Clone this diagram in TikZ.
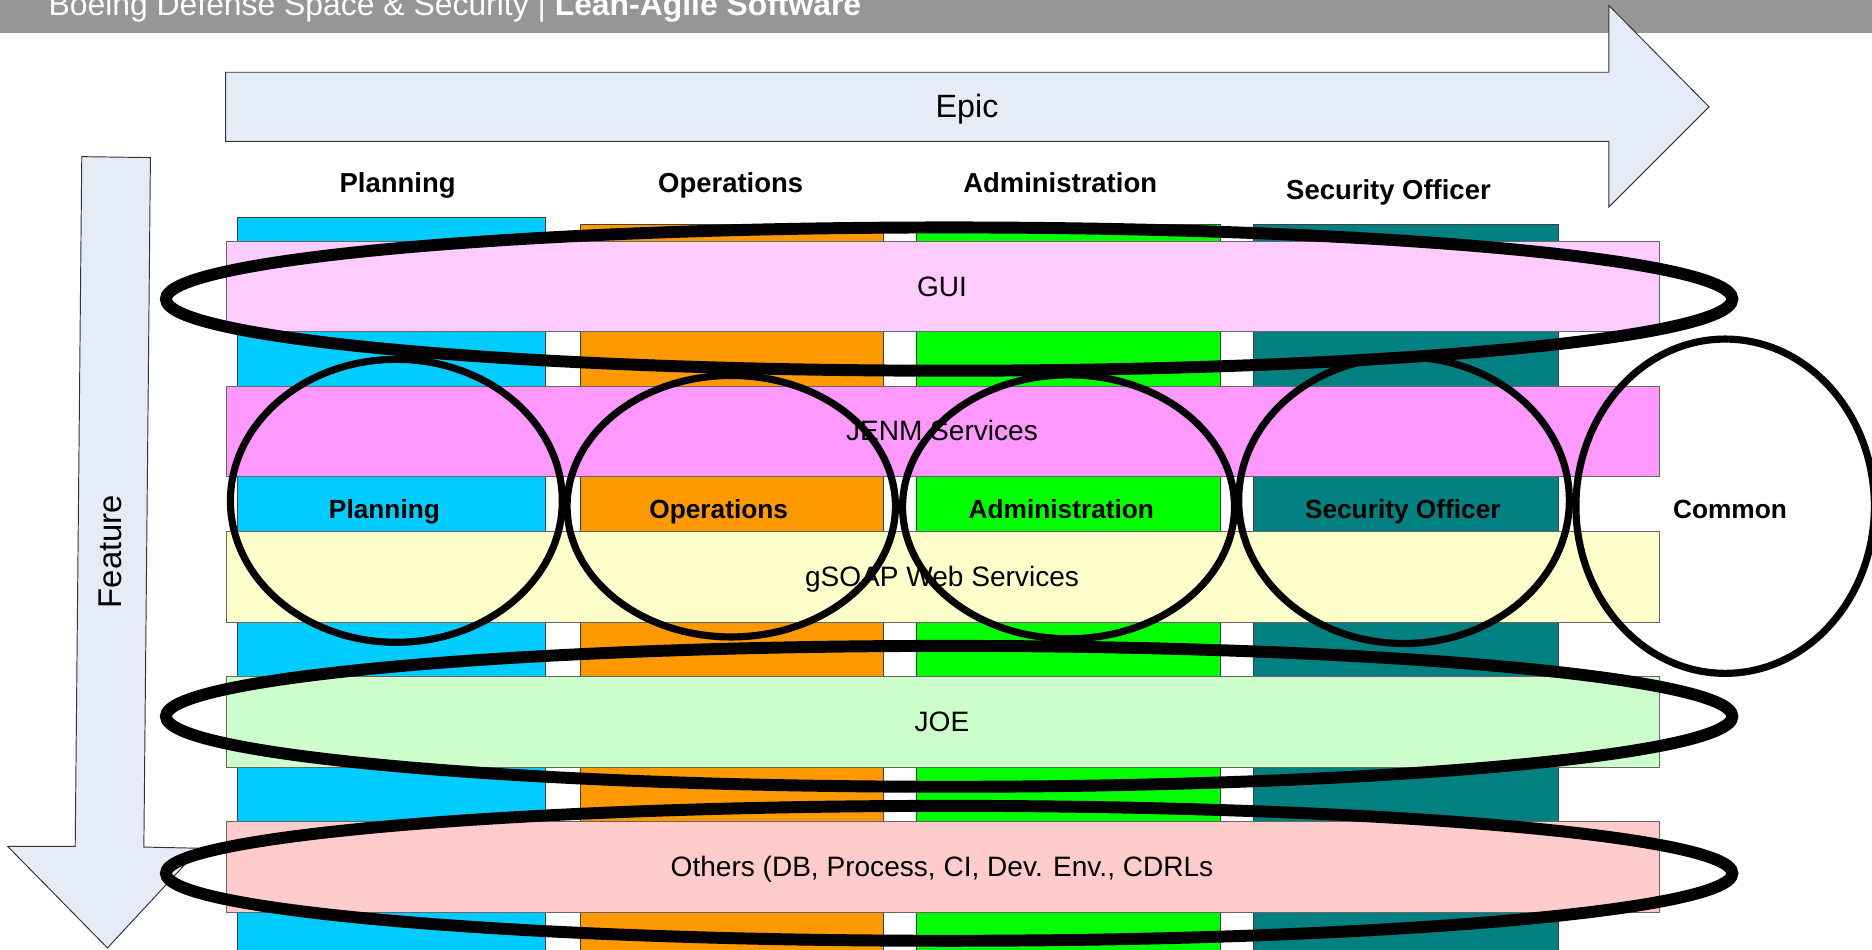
\documentclass[tikz,border=0pt]{standalone}
\usepackage{fontspec}
\setmainfont{Liberation Sans}
\definecolor{hdr}{HTML}{969696}
\definecolor{arrowfill}{HTML}{E6ECF7}
\definecolor{cblue}{HTML}{00CCFF}
\definecolor{corange}{HTML}{FF9900}
\definecolor{cgreen}{HTML}{00FF00}
\definecolor{cteal}{HTML}{008080}
\definecolor{bgui}{HTML}{FFCCFF}
\definecolor{bjenm}{HTML}{FF99FF}
\definecolor{bsoap}{HTML}{FFFFCC}
\definecolor{bjoe}{HTML}{CCFFCC}
\definecolor{bother}{HTML}{FFCCCC}
\begin{document}
\begin{tikzpicture}[x=1pt,y=-1pt,
  colbox/.style={draw=black!75, line width=0.8pt},
  bandbox/.style={draw=black!60, line width=0.8pt},
  bandlabel/.style={anchor=base, inner sep=0pt, font=\fontsize{23.5}{26}\selectfont},
  headlabel/.style={anchor=base, inner sep=0pt, font=\bfseries\fontsize{23}{26}\selectfont},
  rowlabel/.style={anchor=base, inner sep=0pt, font=\bfseries\fontsize{22}{25}\selectfont},
  hoval/.style={draw=black, line width=10pt},
  voval/.style={draw=black, line width=6pt},
  bigarrow/.style={fill=arrowfill, draw=black!80, line width=0.8pt, line join=miter}]
\useasboundingbox (0,0) rectangle (1568,795);
% header bar
\fill[hdr] (0,0) rectangle (1568,28);
\node[anchor=base west, inner sep=0pt, text=white, font=\fontsize{26.7}{30}\selectfont] (hdrtext) at (40.5,13) {Boeing Defense Space \& Security | \textbf{Lean-Agile Software}};
% Epic arrow
\draw[bigarrow] (189,60.5) -- (1347.5,60.5) -- (1347.5,4.5) -- (1431.5,89.5) -- (1347.5,173.5) -- (1347.5,118.5) -- (189,118.5) -- cycle;
\node[anchor=base, inner sep=0pt, font=\fontsize{27}{30}\selectfont] (epic) at (810,98) {Epic};
% Feature arrow
\draw[bigarrow] (68.5,131.2) -- (126,132) -- (120.5,709.5) -- (167.5,710.5) -- (90,794) -- (6.5,709) -- (63,709) -- cycle;
\node[anchor=base, rotate=90, inner sep=0pt, font=\fontsize{27.5}{30}\selectfont] (feature) at (102,462) {Feature};
% column headers
\node[headlabel] (hPlan) at (333,161) {Planning};
\node[headlabel] (hOps) at (612,161) {Operations};
\node[headlabel] (hAdm) at (888,161) {Administration};
\node[headlabel] (hSec) at (1163,167.5) {Security Officer};
% columns
\draw[colbox, fill=cblue] (199,182) rectangle (457,800);
\draw[colbox, fill=corange] (486,188) rectangle (740,800);
\draw[colbox, fill=cgreen] (768,188) rectangle (1022,800);
\draw[colbox, fill=cteal] (1050,188) rectangle (1305,800);
% bands
\draw[bandbox, fill=bgui] (190,202) rectangle (1390,278);
\draw[bandbox, fill=bjenm] (190,323.5) rectangle (1390,399.5);
\draw[bandbox, fill=bsoap] (190,445) rectangle (1390,521);
\draw[bandbox, fill=bjoe] (190,567) rectangle (1390,642.5);
\draw[bandbox, fill=bother] (190,688) rectangle (1390,764);
\node[bandlabel] (lGui) at (789,248) {GUI};
\node[bandlabel] (lJenm) at (789,369) {JENM Services};
\node[bandlabel] (lSoap) at (789,491) {gSOAP Web Services};
\node[bandlabel] (lJoe) at (789,613) {JOE};
\node[bandlabel] (lOther) at (789,734) {Others (DB, Process, CI, Dev. Env., CDRLs};
% row labels
\node[rowlabel] (rPlan) at (322,434) {Planning};
\node[rowlabel] (rOps) at (602,434) {Operations};
\node[rowlabel] (rAdm) at (889,434) {Administration};
\node[rowlabel] (rSec) at (1175,434) {Security Officer};
\node[rowlabel] (rCom) at (1449,434) {Common};
% ellipses
\draw[hoval] (795,250.5) ellipse [x radius=656, y radius=60];
\draw[hoval] (795,600) ellipse [x radius=656, y radius=59];
\draw[hoval] (795,731.5) ellipse [x radius=656, y radius=56.5];
\draw[voval] (332,419.5) ellipse [x radius=139, y radius=118.5];
\draw[voval] (612.5,424) ellipse [x radius=137.5, y radius=109.5];
\draw[voval] (895,424.5) ellipse [x radius=139, y radius=110.5];
\draw[voval] (1176,419) ellipse [x radius=138.5, y radius=120];
\draw[voval] (1445,424) ellipse [x radius=125, y radius=140];
\end{tikzpicture}
\end{document}
